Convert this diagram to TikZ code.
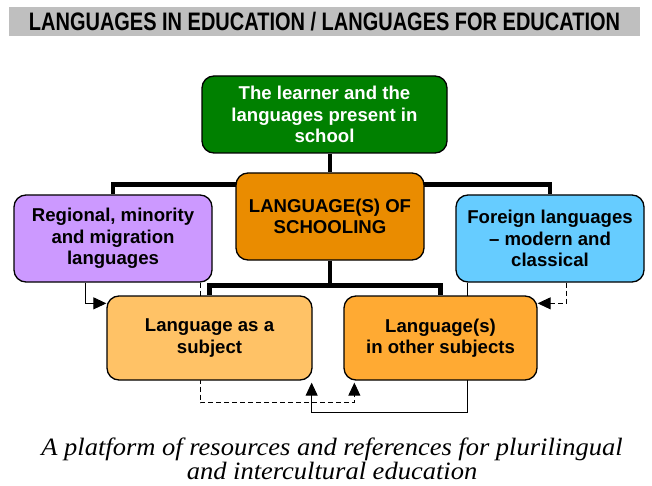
\documentclass[tikz,border=0pt]{standalone}
\usepackage{fontspec}
\setmainfont{Liberation Sans}
\newfontfamily\narrowfont[FakeStretch=0.79]{Liberation Sans}
\newfontfamily\captionfont[FakeStretch=1.06]{Liberation Serif}
\usetikzlibrary{arrows.meta,backgrounds}

\definecolor{learnergreen}{HTML}{008000}
\definecolor{schoolorange}{HTML}{EA8C00}
\definecolor{regionalpurple}{HTML}{CC99FF}
\definecolor{foreignblue}{HTML}{66CCFF}
\definecolor{subjectorange}{HTML}{FFC266}
\definecolor{otherorange}{HTML}{FFAA33}

\begin{document}
\begin{tikzpicture}[x=1pt,y=1pt,
    box/.style={draw,line width=1.3pt,rounded corners=12pt,align=center,inner sep=0pt,
      font=\bfseries\fontsize{18.6}{21.5}\selectfont},
    trunk/.style={line width=4.5pt},
    link/.style={line width=1pt,-{Triangle[length=13pt,width=12pt]}},
    dashlink/.style={link,dash pattern=on 5pt off 3pt}]
  \useasboundingbox (0,0) rectangle (652,-486);
  \node[fill=black!25,minimum width=631pt,minimum height=28.5pt,inner sep=0pt,
    font=\narrowfont\bfseries\fontsize{25.3}{25}\selectfont] (title) at (324.5,-21.75)
    {LANGUAGES IN EDUCATION / LANGUAGES FOR EDUCATION};
  \node[box,fill=learnergreen,text=white,minimum width=245pt,minimum height=77pt] (learner) at (324.5,-114.5)
    {The learner and the\\languages present in\\school};
  \node[box,fill=schoolorange,minimum width=188pt,minimum height=87pt] (school) at (330,-216.5)
    {LANGUAGE(S) OF\\SCHOOLING};
  \node[box,fill=regionalpurple,minimum width=198pt,minimum height=87pt] (regional) at (113,-238.5)
    {Regional, minority\\and migration\\languages};
  \node[box,fill=foreignblue,minimum width=188pt,minimum height=87pt] (foreign) at (550,-238.5)
    {Foreign languages\\-- modern and\\classical};
  \node[box,fill=subjectorange,minimum width=205pt,minimum height=84pt] (subject) at (209.5,-338)
    {Language as a\\subject};
  \node[box,fill=otherorange,minimum width=193pt,minimum height=84pt] (other) at (440.5,-338)
    {Language(s)\\in other subjects};
  \node[font=\captionfont\itshape\fontsize{25}{22.5}\selectfont,align=center] (caption) at (332,-459)
    {A platform of resources and references for plurilingual\\and intercultural education};
  \begin{scope}[on background layer]
    \draw[trunk] (school.north |- learner.south) -- (school.north);
    \draw[trunk] ([yshift=-12pt]school.north) -| (regional.north);
    \draw[trunk] ([yshift=-12pt]school.north) -| (foreign.north);
    \draw[trunk] (school.south) -- ++(0,-25) coordinate (fork);
    \draw[trunk] (fork) -| (subject.north);
    \draw[trunk] (fork) -| (other.north);
    \draw[link] ([xshift=-28pt]regional.south) |- ([yshift=-8pt]subject.north west);
    \draw[dashlink] ([xshift=16pt]foreign.south) |- ([yshift=-8pt]other.north east);
    \draw[link] ([xshift=-83pt]foreign.south) -- ++(0,-130) -| ([xshift=-1pt,yshift=-2pt]subject.south east);
    \draw[dashlink] ([xshift=87pt]regional.south) -- ++(0,-120) -| ([xshift=11pt,yshift=-2pt]other.south west);
  \end{scope}
\end{tikzpicture}
\end{document}
